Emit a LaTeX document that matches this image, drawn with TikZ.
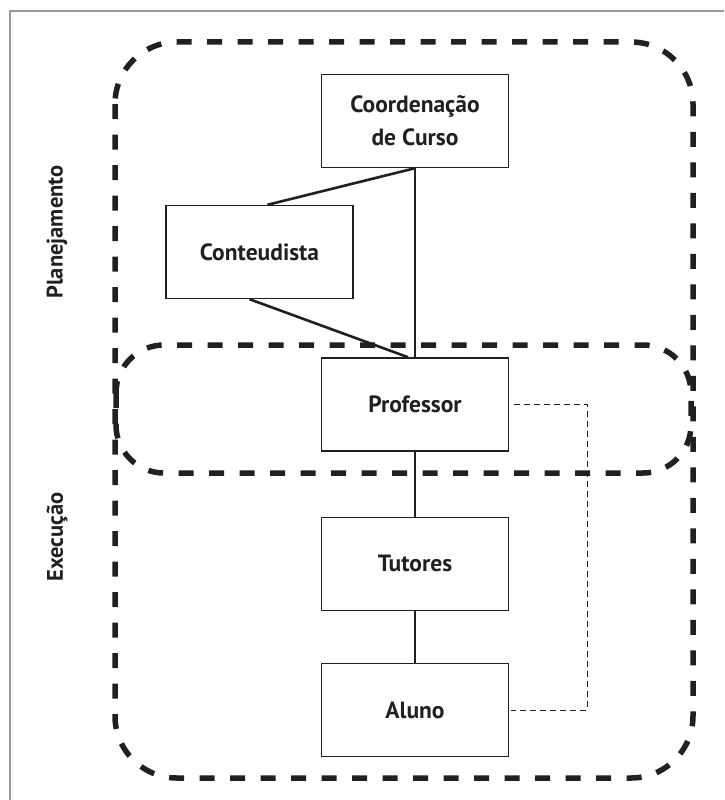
\documentclass[tikz,border=0pt]{standalone}
\usepackage{fontspec}
\setmainfont{PT Sans}
\usetikzlibrary{positioning}
\definecolor{ink}{HTML}{231F20}

\begin{document}
\begin{tikzpicture}[
    x=1pt, y=1pt,
    box/.style={draw=ink, line width=1.4pt, minimum width=187pt, minimum height=93pt, align=center, inner sep=0pt},
    link/.style={draw=ink, line width=2.6pt},
    zone/.style={draw=ink, line width=5.5pt, dash pattern=on 15pt off 15.5pt},
    fine/.style={draw=ink, line width=1.3pt, dash pattern=on 6pt off 4pt},
    side/.style={rotate=90, font=\fontsize{22.5}{27}\selectfont\bfseries},
    font=\fontsize{23.5}{33}\selectfont\bfseries, text=ink
  ]
    \useasboundingbox (0,0) rectangle (724,-800);
    \draw[gray!80, line width=1.2pt] (10,-800) -- (10,-11) -- (724,-11);
    \draw[zone, rounded corners=62pt] (115,-42) rectangle (693,-778);
    \draw[zone, rounded corners=48pt] (116,-345) rectangle (691,-473);
    \node[box] (coord) at (415,-121) {Coordenação\\de Curso};
    \node[box] (cont) at (259.5,-252) {Conteudista};
    \node[box, below=189pt of coord] (prof) {Professor};
    \node[box, below=65pt of prof] (tut) {Tutores};
    \node[box, below=52pt of tut] (aluno) {Aluno};
    \node[side] (plan) at (57,-232) {Planejamento};
    \node[side] (exec) at (57,-537) {Execução};
    \draw[link] ([xshift=8pt]cont.north) -- (coord.south);
    \draw[link] ([xshift=-10pt]cont.south) -- ([xshift=-7pt]prof.north);
    \draw[link] (coord.south) -- (prof.north);
    \draw[link] (prof.south) -- (tut.north);
    \draw[link] (tut.south) -- (aluno.north);
    \draw[fine] ([xshift=5pt]prof.east) -| ([xshift=78pt]aluno.east) -- ([xshift=2pt]aluno.east);
  \end{tikzpicture}
\end{document}
